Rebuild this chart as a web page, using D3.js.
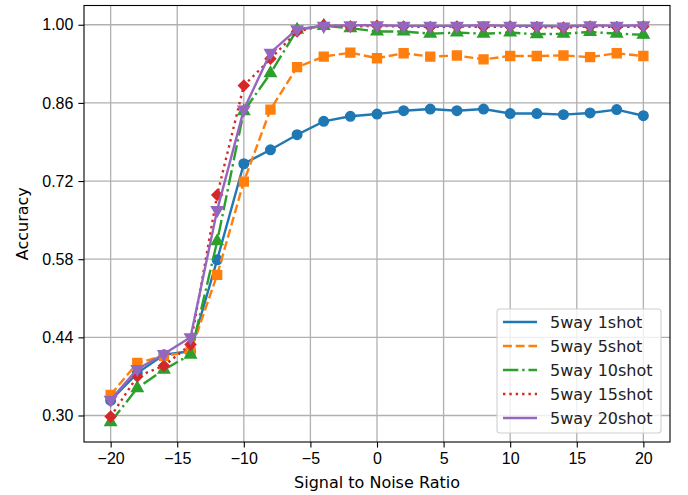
<!DOCTYPE html>
<html>
<head>
<meta charset="utf-8">
<script src="https://cdn.jsdelivr.net/npm/d3@7"></script>
<style>
  body { margin: 0; background: #fff; }
  svg { font-family: "DejaVu Sans", sans-serif; }
</style>
</head>
<body>
<div id="chart"></div>
<script>
// values
const snr = [-20, -18, -16, -14, -12, -10, -8, -6, -4, -2, 0, 2, 4, 6, 8, 10, 12, 14, 16, 18, 20]

const acc1shot = [0.327, 0.376, 0.409, 0.415, 0.579, 0.751, 0.776, 0.803, 0.827, 0.836, 0.840, 0.846, 0.849, 0.846, 0.849, 0.841, 0.841, 0.839, 0.842, 0.848, 0.837]
const acc5shot = [0.337, 0.394, 0.407, 0.414, 0.552, 0.719, 0.848, 0.924, 0.943, 0.950, 0.940, 0.949, 0.943, 0.945, 0.938, 0.944, 0.944, 0.945, 0.942, 0.949, 0.944]
const acc10shot = [0.288, 0.349, 0.382, 0.409, 0.612, 0.845, 0.913, 0.991, 0.998, 0.994, 0.988, 0.988, 0.984, 0.986, 0.984, 0.986, 0.983, 0.984, 0.987, 0.984, 0.982]
const acc15shot = [0.298, 0.370, 0.389, 0.427, 0.695, 0.891, 0.939, 0.988, 0.999, 0.997, 0.998, 0.997, 0.996, 0.997, 0.996, 0.997, 0.996, 0.995, 0.997, 0.996, 0.997]
const acc20shot = [0.328, 0.383, 0.410, 0.440, 0.668, 0.848, 0.950, 0.992, 0.998, 0.999, 0.999, 0.998, 0.998, 0.998, 0.999, 0.998, 0.998, 0.997, 0.999, 0.998, 0.999]

const seriesNames = ["5way 1shot", "5way 5shot", "5way 10shot", "5way 15shot", "5way 20shot"]
const xTicks = [-20, -15, -10, -5, 0, 5, 10, 15, 20]
const yTicks = [0.30, 0.44, 0.58, 0.72, 0.86, 1.00]

const lw = 2.4
const styles = [
  { color: "#1f77b4", dash: null, marker: "circle" },
  { color: "#ff7f0e", dash: `${3.7 * lw},${1.6 * lw}`, marker: "square" },
  { color: "#2ca02c", dash: `${6.4 * lw},${1.6 * lw},${1 * lw},${1.6 * lw}`, marker: "triUp" },
  { color: "#d62728", dash: `${1 * lw},${1.65 * lw}`, marker: "diamond" },
  { color: "#9467bd", dash: null, marker: "triDown" },
]

const series = [acc1shot, acc5shot, acc10shot, acc15shot, acc20shot].map((values, i) => ({
  name: seriesNames[i],
  style: styles[i],
  points: snr.map((x, j) => ({ x, y: values[j] })),
}))

const width = 688
const height = 495
const margin = { top: 5.5, right: 18, bottom: 53, left: 84 }
const fontSize = "16px"

const svg = d3.select("#chart")
  .append("svg")
    .attr("width", width)
    .attr("height", height)

const xScale = d3.scaleLinear()
  .domain([-22, 22])
  .range([margin.left, width - margin.right])

const yScale = d3.scaleLinear()
  .domain([0.2525, 1.0345])
  .range([height - margin.bottom, margin.top])

// grid
const grid = svg.append("g")
grid.selectAll(".gx")
  .data(xTicks)
  .enter().append("line")
    .attr("x1", d => xScale(d)).attr("x2", d => xScale(d))
    .attr("y1", margin.top).attr("y2", height - margin.bottom)
    .attr("stroke", "#b0b0b0").attr("stroke-width", 1.3)
grid.selectAll(".gy")
  .data(yTicks)
  .enter().append("line")
    .attr("y1", d => yScale(d)).attr("y2", d => yScale(d))
    .attr("x1", margin.left).attr("x2", width - margin.right)
    .attr("stroke", "#b0b0b0").attr("stroke-width", 1.3)

// axes
const fmtX = d => d < 0 ? "\u2212" + Math.abs(d) : String(d)
svg.append("g")
  .attr("transform", `translate(0,${height - margin.bottom})`)
  .call(d3.axisBottom(xScale).tickValues(xTicks).tickFormat(fmtX).tickSizeOuter(0).tickSize(5.6).tickPadding(5))
svg.append("g")
  .attr("transform", `translate(${margin.left},0)`)
  .call(d3.axisLeft(yScale).tickValues(yTicks).tickFormat(d3.format(".2f")).tickSizeOuter(0).tickSize(5.6).tickPadding(5))

svg.selectAll(".domain").remove()
svg.selectAll(".tick line").attr("stroke", "#000").attr("stroke-width", 1.1)
svg.selectAll(".tick text").attr("fill", "#000").style("font-size", fontSize)

// series
const symbolFor = {
  circle: d3.symbol(d3.symbolCircle, 72),
  square: d3.symbol(d3.symbolSquare, 80),
  triUp: d3.symbol(d3.symbolTriangle, 58),
  diamond: d3.symbol(d3.symbolSquare, 56),
  triDown: d3.symbol(d3.symbolTriangle, 58),
}
const rotFor = { circle: 0, square: 0, triUp: 0, diamond: 45, triDown: 180 }

const line = d3.line()
  .x(d => xScale(d.x))
  .y(d => yScale(d.y))

series.forEach(s => {
  const g = svg.append("g")
  g.append("path")
    .datum(s.points)
    .attr("d", line)
    .attr("fill", "none")
    .attr("stroke", s.style.color)
    .attr("stroke-width", lw)
    .attr("stroke-dasharray", s.style.dash)
  g.selectAll("path.marker")
    .data(s.points)
    .enter().append("path")
      .attr("class", "marker")
      .attr("d", symbolFor[s.style.marker])
      .attr("transform", d => `translate(${xScale(d.x)},${yScale(d.y)}) rotate(${rotFor[s.style.marker]})`)
      .attr("fill", s.style.color)
      .attr("stroke", s.style.color)
      .attr("stroke-width", 1.4)
      .attr("stroke-linejoin", "miter")
})

// frame
svg.append("rect")
  .attr("x", margin.left).attr("y", margin.top)
  .attr("width", width - margin.left - margin.right)
  .attr("height", height - margin.top - margin.bottom)
  .attr("fill", "none").attr("stroke", "#000").attr("stroke-width", 1.1)

// labels
svg.append("text")
  .attr("x", (margin.left + width - margin.right) / 2)
  .attr("y", 488)
  .attr("text-anchor", "middle")
  .style("font-size", fontSize)
  .text("Signal to Noise Ratio")

svg.append("text")
  .attr("transform", `translate(28,${(margin.top + height - margin.bottom) / 2}) rotate(-90)`)
  .attr("text-anchor", "middle")
  .style("font-size", fontSize)
  .text("Accuracy")

// legend
const legend = svg.append("g").attr("transform", "translate(497,309)")
legend.append("rect")
  .attr("width", 164).attr("height", 124)
  .attr("rx", 3)
  .attr("fill", "#fff").attr("fill-opacity", 0.8)
  .attr("stroke", "#d0d0d0").attr("stroke-width", 1.1)

series.forEach((s, i) => {
  const yy = 13 + i * 24
  legend.append("line")
    .attr("x1", 6).attr("x2", 40)
    .attr("y1", yy).attr("y2", yy)
    .attr("stroke", s.style.color)
    .attr("stroke-width", lw)
    .attr("stroke-dasharray", s.style.dash)
  legend.append("text")
    .attr("x", 53).attr("y", yy)
    .attr("dy", "0.36em")
    .style("font-size", fontSize)
    .attr("fill", "#222")
    .text(s.name)
})
</script>
</body>
</html>
